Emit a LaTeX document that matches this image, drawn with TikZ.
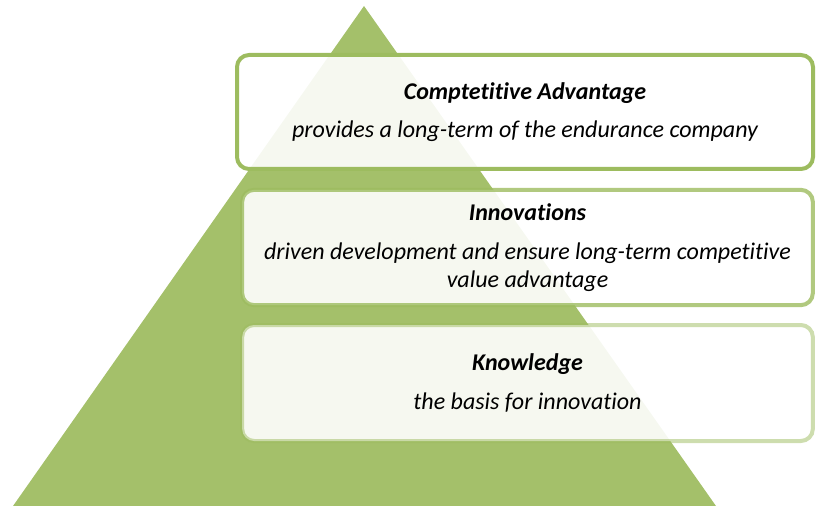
\documentclass[tikz,border=0pt]{standalone}
\usepackage{fontspec}
\setmainfont{Carlito}[Ligatures=NoCommon]
\usetikzlibrary{positioning}

\definecolor{leafgreen}{HTML}{A4C06A}
\definecolor{rimgreen}{HTML}{9DBC5F}

\begin{document}
\begin{tikzpicture}[
    x=0.75pt, y=-0.75pt,
    level/.style={rectangle, draw=rimgreen, line width=3pt, rounded corners=9pt,
        fill=white, fill opacity=0.9, text opacity=1, inner sep=0pt,
        align=center, font=\fontsize{18}{21}\selectfont\itshape}
]
\useasboundingbox (0,0) rectangle (817,506);
% pyramid behind the levels
\fill[leafgreen] (13,506) -- (364,6) -- (716,506) -- cycle;

\node[level, minimum width=432pt, minimum height=85.5pt] (advantage) at (525,112)
    {\textbf{Comptetitive Advantage}\\[8pt]provides a long-term of the endurance company};
\node[level, draw opacity=0.8, minimum width=428pt, minimum height=86.5pt] (innov) at (527.5,247.5)
    {\textbf{Innovations}\\[8pt]driven development and ensure long-term competitive\\value advantage};
\node[level, draw opacity=0.5, minimum width=428pt, minimum height=87pt] (know) at (527.5,383)
    {\textbf{Knowledge}\\[8pt]the basis for innovation};
\end{tikzpicture}
\end{document}
